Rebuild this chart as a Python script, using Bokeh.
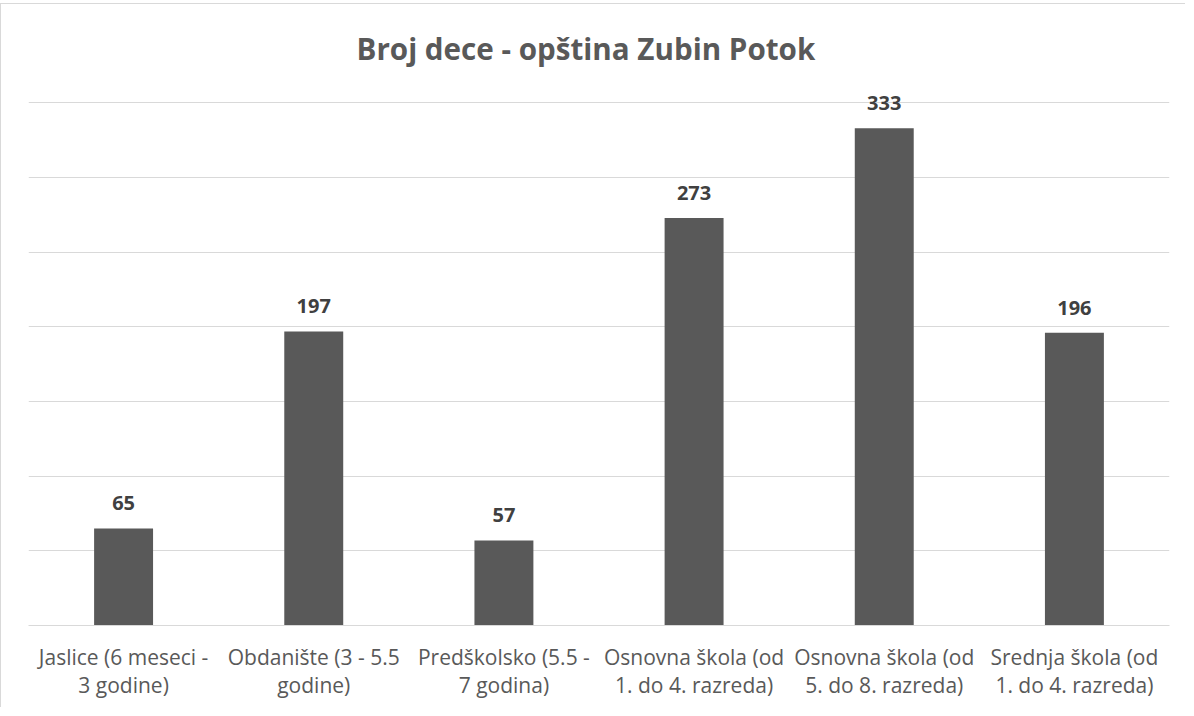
from bokeh.plotting import figure
from bokeh.models import Range1d, FixedTicker, ColumnDataSource, LabelSet, Title
from bokeh.core.properties import value
from bokeh.embed import file_html
from bokeh.resources import INLINE

title_text = "Broj dece - opština Zubin Potok"
categories = [
    "Jaslice (6 meseci -\n3 godine)",
    "Obdanište (3 - 5.5\ngodine)",
    "Predškolsko (5.5 -\n7 godina)",
    "Osnovna škola (od\n1. do 4. razreda)",
    "Osnovna škola (od\n5. do 8. razreda)",
    "Srednja škola (od\n1. do 4. razreda)",
]
counts = [65, 197, 57, 273, 333, 196]
grid_ticks = [0, 50, 100, 150, 200, 250, 300, 350]

src = ColumnDataSource(data=dict(cat=categories, n=counts, lbl=[str(v) for v in counts]))

p = figure(
    x_range=categories,
    y_range=Range1d(0, 357),
    width=1185, height=704,
    output_backend="svg", toolbar_location=None,
    min_border_left=27, min_border_right=17, min_border_top=88, min_border_bottom=83,
)
p.styles = {"border-left": "1px solid #d9d9d9", "border-top": "1px solid #d9d9d9",
            "margin-top": "3px"}
p.outline_line_color = None
p.background_fill_color = "white"
p.border_fill_color = "white"

# spacer between frame and title, then the title itself
spacer = Title(text=" ", text_font_size="20px", standoff=0, text_color="white")
p.add_layout(spacer, "above")
main_title = Title(text=title_text, align="left", offset=328, standoff=0,
                   text_font="Open Sans", text_font_size="29.6px",
                   text_font_style="bold", text_color="#595959")
p.add_layout(main_title, "above")

p.vbar(x="cat", top="n", width=0.31, source=src, color="#595959", line_color=None)
labels = LabelSet(x="cat", y="n", text="lbl", source=src, y_offset=18,
                  text_align="center", text_baseline="alphabetic",
                  text_font=value("Open Sans"), text_font_size=value("20px"),
                  text_font_style=value("bold"), text_color=value("#404040"))
p.add_layout(labels)

p.yaxis.visible = False
p.xgrid.grid_line_color = None
p.ygrid.ticker = FixedTicker(ticks=grid_ticks)
p.ygrid.grid_line_color = "#d9d9d9"
p.ygrid.grid_line_width = 1

ax = p.xaxis[0]
ax.axis_line_color = "#d9d9d9"
ax.major_tick_line_color = None
ax.minor_tick_line_color = None
ax.major_label_text_font = "Open Sans"
ax.major_label_text_font_size = "21px"
ax.major_label_text_color = "#595959"
ax.major_label_text_line_height = 1.0
ax.major_label_standoff = 11
ax.major_label_orientation = "horizontal"

open("out.html", "w").write(file_html(p, INLINE))
